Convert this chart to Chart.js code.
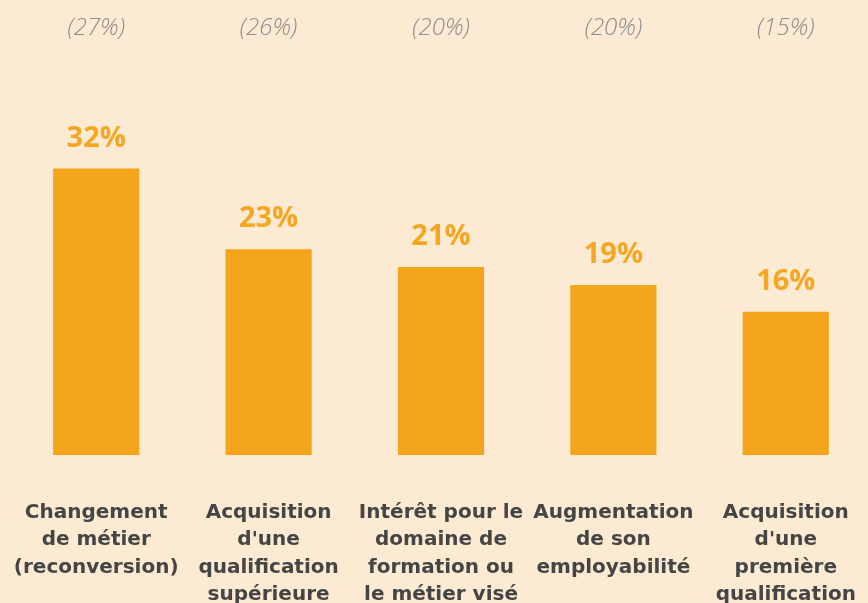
<!DOCTYPE html>
<html lang="fr">
<head>
<meta charset="utf-8">
<script src="https://cdn.jsdelivr.net/npm/chart.js@4.4.1/dist/chart.umd.min.js"></script>
<style>
  html, body { margin: 0; padding: 0; background: #fdead3; overflow: hidden; }
  canvas { display: block; }
</style>
</head>
<body>
<canvas id="motifs" width="882" height="603"></canvas>
<script>
// motifs d'entrée en formation, en % des répondants
const categories = [
    ['Changement', 'de métier', '(reconversion)'],
    ['Acquisition', "d'une", 'qualification', 'supérieure'],
    ['Intérêt pour le', 'domaine de', 'formation ou', 'le métier visé'],
    ['Augmentation', 'de son', 'employabilité'],
    ['Acquisition', "d'une", 'première', 'qualification']
];
const values = [32, 23, 21, 19, 16];
// rappel de l'année précédente, affiché en haut
const previousValues = [27, 26, 20, 20, 15];

const orange = '#f5a51b';

const labelsPlugin = {
    id: 'valueLabels',
    afterDatasetsDraw(chart) {
        const ctx = chart.ctx;
        const meta = chart.getDatasetMeta(0);
        const xScale = chart.scales.x;
        ctx.save();
        ctx.textAlign = 'center';

        // valeurs au-dessus des barres
        ctx.fillStyle = '#f5a623';
        ctx.font = 'bold 29px "Open Sans"';
        ctx.textBaseline = 'alphabetic';
        meta.data.forEach((bar, i) => {
            ctx.fillText(values[i] + '%', bar.x, bar.y - 22);
        });

        // valeurs précédentes en italique
        ctx.fillStyle = '#8c8c8c';
        ctx.font = 'italic 300 24px "Open Sans"';
        ctx.textBaseline = 'middle';
        previousValues.forEach((v, i) => {
            ctx.fillText('(' + v + '%)', xScale.getPixelForValue(i), 28);
        });
        ctx.restore();
    }
};

new Chart(document.getElementById('motifs'), {
    type: 'bar',
    data: {
        labels: categories,
        datasets: [{
            data: values,
            backgroundColor: orange,
            borderWidth: 0,
            barPercentage: 0.5,
            categoryPercentage: 1
        }]
    },
    options: {
        responsive: false,
        animation: false,
        layout: { padding: { top: 97, left: 10, right: 10, bottom: 0 } },
        plugins: {
            legend: { display: false },
            tooltip: { enabled: false }
        },
        scales: {
            x: {
                grid: { display: false, drawTicks: false },
                border: { display: false },
                afterFit(scale) {
                    // hauteur fixe pour les libellés, sans marge latérale
                    scale.height = 148;
                    scale.paddingLeft = 0;
                    scale.paddingRight = 0;
                },
                ticks: {
                    color: '#454545',
                    font: { family: 'DejaVu Sans', size: 20, weight: 'bold', lineHeight: 1.375 },
                    padding: 44,
                    maxRotation: 0,
                    autoSkip: false
                }
            },
            y: {
                display: false,
                min: 0,
                max: 40
            }
        }
    },
    plugins: [labelsPlugin]
});
</script>
</body>
</html>
